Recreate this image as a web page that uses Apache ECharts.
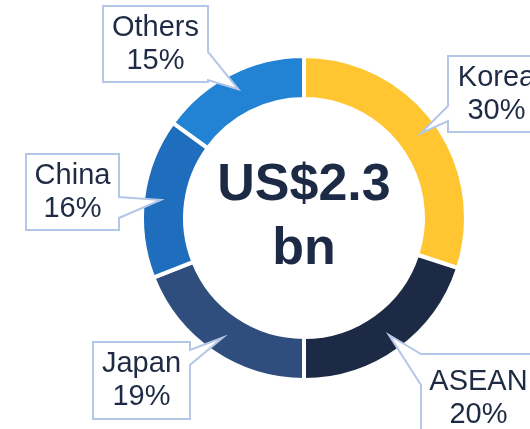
<!DOCTYPE html>
<html>
<head>
<meta charset="utf-8">
<script src="https://cdn.jsdelivr.net/npm/echarts@6/dist/echarts.min.js"></script>
<style>
  html, body { margin: 0; padding: 0; background: #fff; }
  #main { width: 530px; height: 429px; }
</style>
</head>
<body>
<div id="main"></div>
<script>
// data
var categories = ['Korea', 'ASEAN', 'Japan', 'China', 'Others'];
var shares = [30, 20, 19, 16, 15];
var sliceColors = ['#FFC631', '#1C2A45', '#2F4E7D', '#1F6EBE', '#2282D4'];
var centerText = 'US$2.3\nbn';

// callout boxes: [x0, y0, x1, y1], side the pointer leaves from, span on that side
var boxes = [
  { rect: [448, 56, 545, 132], side: 'left', span: [106, 121] },   // Korea
  { rect: [421, 354, 536, 442], side: 'left', span: [354, 385] },  // ASEAN
  { rect: [93, 342, 190, 419], side: 'right', span: [350, 365] },  // Japan
  { rect: [26, 154, 119, 230], side: 'right', span: [197, 218] },  // China
  { rect: [103, 6, 208, 82], side: 'right', span: [52, 80] }       // Others
];

var font = 'Liberation Sans, Arial, sans-serif';
var textColor = '#1F2B44';
var boxLine = '#B4C7E7';

var myChart = echarts.init(document.getElementById('main'));

option = {
  animation: false,
  backgroundColor: '#fff',
  series: [
    {
      type: 'pie',
      center: [304, 218],
      radius: [119, 162],
      startAngle: 90,
      clockwise: true,
      silent: true,
      label: { show: false },
      labelLine: { show: false },
      itemStyle: { borderColor: '#fff', borderWidth: 4 },
      data: categories.map(function (c, i) {
        return { name: c, value: shares[i], itemStyle: { color: sliceColors[i] } };
      })
    }
  ]
};
myChart.setOption(option);

// build callouts from the pie's own layout
function calloutPoints(b, tip) {
  var x0 = b.rect[0], y0 = b.rect[1], x1 = b.rect[2], y1 = b.rect[3];
  var a = b.span[0], c = b.span[1];
  var pts = [];
  pts.push([x0, y0]);
  if (b.side === 'top') { pts.push([a, y0], tip, [c, y0]); }
  pts.push([x1, y0]);
  if (b.side === 'right') { pts.push([x1, a], tip, [x1, c]); }
  pts.push([x1, y1]);
  if (b.side === 'bottom') { pts.push([c, y1], tip, [a, y1]); }
  pts.push([x0, y1]);
  if (b.side === 'left') { pts.push([x0, c], tip, [x0, a]); }
  return pts;
}

var pieData = myChart.getModel().getSeriesByIndex(0).getData();
var graphics = [];
categories.forEach(function (c, i) {
  var lay = pieData.getItemLayout(i);
  var mid = (lay.startAngle + lay.endAngle) / 2;
  var rt = (lay.r + lay.r0) / 2 + 4;
  var tip = [lay.cx + rt * Math.cos(mid), lay.cy + rt * Math.sin(mid)];
  var b = boxes[i];
  graphics.push({
    type: 'polygon',
    z: 10,
    shape: { points: calloutPoints(b, tip) },
    style: { fill: '#fff', stroke: boxLine, lineWidth: 2 }
  });
  graphics.push({
    type: 'text',
    z: 11,
    x: (b.rect[0] + b.rect[2]) / 2,
    y: (b.rect[1] + b.rect[3]) / 2,
    style: {
      text: c + '\n' + shares[i] + '%',
      fill: textColor,
      font: '29px ' + font,
      lineHeight: 33,
      align: 'center',
      verticalAlign: 'middle'
    }
  });
});

var lay0 = pieData.getItemLayout(0);
graphics.push({
  type: 'text',
  z: 11,
  x: lay0.cx,
  y: lay0.cy,
  style: {
    text: centerText,
    fill: '#1C2A45',
    font: 'bold 52px ' + font,
    lineHeight: 64,
    align: 'center',
    verticalAlign: 'middle'
  }
});

myChart.setOption({ graphic: graphics });
</script>
</body>
</html>
